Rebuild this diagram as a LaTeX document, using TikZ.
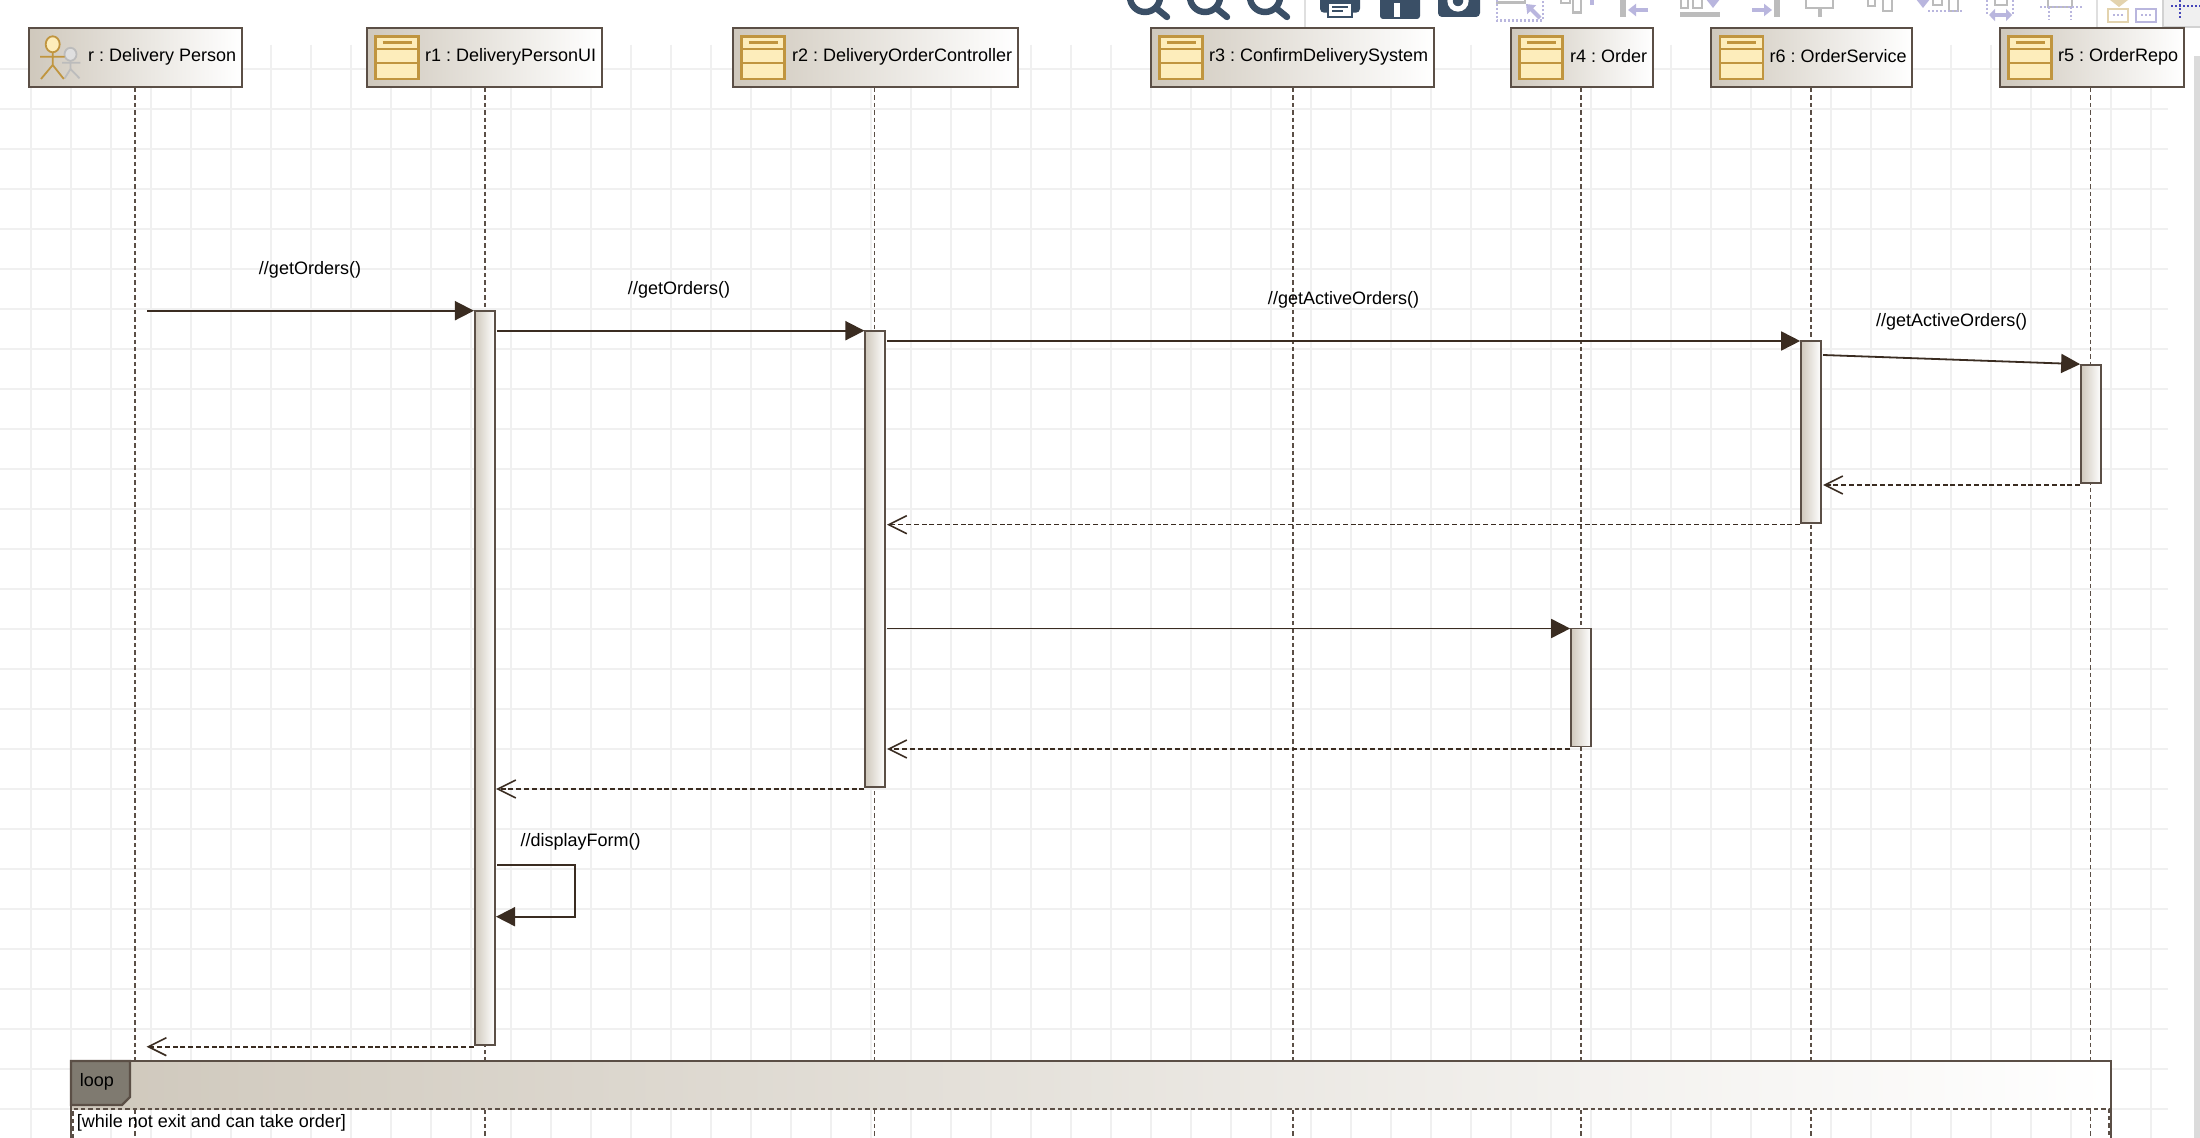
\documentclass[tikz,border=0pt]{standalone}
\usepackage{fontspec}
\setmainfont{Liberation Sans}
\usepackage{color}
\usetikzlibrary{arrows.meta}
\definecolor{edgebrown}{HTML}{5B4F46}
\definecolor{arrowbrown}{HTML}{3A2C21}
\definecolor{shadetan}{HTML}{CFC8BC}
\definecolor{tabgrey}{HTML}{7F7A70}
\definecolor{iconline}{HTML}{C0953F}
\definecolor{iconfill}{HTML}{FDEDBB}
\definecolor{gridgrey}{HTML}{F0F0F0}
\definecolor{toolblue}{HTML}{3A4F66}
\definecolor{toolgrey}{HTML}{BCBCBC}
\definecolor{toollav}{HTML}{B9B6DE}
\definecolor{tooltan}{HTML}{E3D3AE}
\tikzset{
	head/.style={rectangle, draw=edgebrown, line width=1pt, left color=shadetan, right color=white, minimum height=29.5pt},
	bar/.style={rectangle, draw=edgebrown, line width=0.85pt, left color=shadetan, right color=white, minimum width=10pt},
	gridline/.style={gridgrey, line width=0.8pt},
	lifeline/.style={edgebrown, line width=0.75pt, dash pattern=on 2.2pt off 1.5pt},
	msg/.style={arrowbrown, line width=0.9pt, -{Triangle[length=9.5pt,width=9.5pt]}},
	ret/.style={arrowbrown, line width=0.8pt, dash pattern=on 2.5pt off 1.4pt, -{Straight Barb[length=9pt,width=9pt]}},
	tool/.style={toolblue, line width=3.2pt},
	toolbox/.style={toolgrey, line width=1.3pt},
	toolarrow/.style={toollav, line width=2pt, -{Triangle[length=4pt,width=6pt]}},
	tooldots/.style={toollav, line width=1.2pt, dash pattern=on 1pt off 1pt}
}
% yellow class symbol inside a head box
\newcommand{\classicon}[1]{
	\begin{scope}[shift={(#1.west)}, iconline, line width=1.2pt]
		\draw[fill=iconfill] (10,-21.3) rectangle (53,21.3);
		\draw (10,-8.7) -- (53,-8.7);
		\draw (10,5.3) -- (53,5.3);
		\draw (17,-15.3) -- (46,-15.3);
	\end{scope}
}
\begin{document}
\frenchspacing
\begin{tikzpicture}[x=0.5pt,y=-0.5pt, every node/.style={font=\fontsize{9pt}{11pt}\selectfont, inner sep=0}]
\useasboundingbox (0,0) rectangle (2200,1138);
\clip (0,0) rectangle (2200,1138);
\fill[white] (0,0) rectangle (2200,1138);
% grid
\foreach \x in {31,71,...,2151} {
	\draw[gridline] (\x,45) -- (\x,1138);
};
\foreach \y in {69,109,...,1109} {
	\draw[gridline] (0,\y) -- (2168,\y);
};
% toolbar rests
\fill[gray!12] (2163,0) rectangle (2200,27);
\draw[gray!35, line width=0.8pt] (2163,0) -- (2163,27) -- (2200,27);
\fill[gray!28] (2194.3,56) rectangle (2200,1138);
\foreach \x in {1305,2097} {
	\draw[gray!25, line width=0.8pt] (\x,0) -- (\x,27);
};
\foreach \x in {1145,1205,1265} {
	\draw[tool] (\x,-3) circle (15);
	\draw[tool, line cap=round] (\x+11,8) -- (\x+22,17);
};
\fill[toolblue, rounded corners=2pt] (1320,-8) rectangle (1360,12.7);
\draw[toolblue, fill=white, line width=1pt] (1328,3) rectangle (1352,17);
\draw[toolblue, line width=0.8pt] (1332,7) -- (1348,7) (1332,11) -- (1343,11);
\fill[toolblue, rounded corners=1.5pt] (1380,-8) rectangle (1420,19);
\fill[white] (1394,3) rectangle (1408,17);
\fill[toolblue] (1400,3) rectangle (1408,17);
\fill[toolblue, rounded corners=2pt] (1438,-8) rectangle (1480,17);
\draw[white, line width=2.6pt] (1458,1) circle (8);
\draw[toolbox] (1497,-6) rectangle (1525,2.5);
\draw[tooldots] (1497,0) -- (1497,20.7) -- (1543,20.7) -- (1543,0);
\draw[toolarrow] (1540,18) -- (1526,4);
\draw[toolbox] (1561,-6) rectangle (1570,3);
\draw[toolbox] (1573,-6) rectangle (1581,12.7);
\fill[toollav] (1590,0) rectangle (1594,5);
\fill[toolgrey] (1620,0) rectangle (1626,17);
\draw[toolarrow] (1648,10) -- (1628,10);
\draw[toolbox] (1681,-6) rectangle (1688,8);
\draw[toolbox] (1693,-6) rectangle (1702,8);
\fill[toolgrey] (1680,12.3) rectangle (1720,17.3);
\draw[toolarrow] (1713,0) -- (1713,8);
\draw[toolarrow] (1752,10) -- (1772,10);
\fill[toolgrey] (1774,0) rectangle (1780,17);
\draw[toolbox] (1806,-6) rectangle (1833,8);
\fill[toolgrey] (1818,8) rectangle (1822,17);
\draw[toolbox] (1868,-6) rectangle (1875,6);
\draw[toolbox] (1883,-6) rectangle (1892,11);
\draw[toolarrow] (1923,0) -- (1923,8);
\draw[toolbox] (1933,-6) rectangle (1942,5);
\draw[toolbox] (1949,-6) rectangle (1958,11);
\draw[tooldots] (1928,11) -- (1962,11);
\draw[tooldots] (1987,0) -- (1987,15) (2013,0) -- (2013,15);
\draw[toolbox] (1995,-6) rectangle (2007,5);
\draw[toollav, line width=1.6pt, {Triangle[length=3pt,width=6pt]}-{Triangle[length=3pt,width=6pt]}] (1989,15) -- (2012,15);
\draw[toolbox] (2048,-6) rectangle (2072,7);
\draw[tooldots] (2040,7) -- (2082,7) (2049,7) -- (2049,20) (2071,7) -- (2071,20);
\fill[tooltan] (2110,0) -- (2128,0) -- (2119,7) -- cycle;
\draw[tooltan, line width=1pt] (2108,9) rectangle (2128,21.7);
\draw[toollav, line width=1pt] (2136,9) rectangle (2156,21.7);
\draw[tooldots] (2113,15) -- (2124,15) (2141,15) -- (2152,15);
\draw[blue!45!gray, line width=1pt, dash pattern=on 1pt off 1pt] (2171,6.5) -- (2200,6.5) (2180,0) -- (2180,20);
% head boxes
\foreach \n/\x/\l/\w/\lbl in {r/135/134.8/213/r : Delivery Person, r1/484/485/235/r1 : DeliveryPersonUI, r2/875/874.5/285/r2 : DeliveryOrderController, r3/1292/1293/283/r3 : ConfirmDeliverySystem, r4/1581.5/1581/142/r4 : Order, r6/1811.5/1811/201/r6 : OrderService, r5/2091.5/2090.5/184/r5 : OrderRepo} {
	\draw[lifeline] (\l,88) -- (\l,1138);
	\node[head, minimum width=\w*0.5pt] (\n) at (\x,58) {};
	\node[anchor=east] (\n text) at ([xshift=-3pt,yshift=0.8pt]\n.east) {\lbl};
};
\foreach \n in {r1,r2,r3,r4,r6,r5} {
	\classicon{\n}
};
% actor symbol
\begin{scope}[line width=0.9pt]
	\draw[toolgrey, fill=gray!25] (70.5,54.3) ellipse (6 and 6.5);
	\draw[toolgrey] (62,62.7) -- (80.4,62.7) (70.5,61) -- (70.5,69) -- (64.7,78.3) (70.5,69) -- (79.5,78.3);
	\draw[iconline, fill=iconfill] (52.7,44.3) ellipse (7 and 8);
	\draw[iconline] (40,56.7) -- (64.7,56.7) (52.7,52.3) -- (52.7,65) -- (41,79) (52.7,65) -- (63.8,79);
\end{scope}
% activation bars
\foreach \n/\x/\t/\b in {a1/484.8/310.7/1045, a2/875.3/331/786.7, a6/1811/340.7/522.7, a5/2091/365/483, a4/1581/628.5/746.5} {
	\node[bar, minimum height={(\b-\t)*0.5pt}] (\n) at (\x,{(\t+\b)/2}) {};
};
% free ends of the messages
\coordinate (m1) at (147,310.7);
\coordinate (m2) at (497,330.7);
\coordinate (m3) at (887,341);
\coordinate (m4) at (1823,355);
\coordinate (ret5) at (1823,485);
\coordinate (ret6) at (887,524.7);
\coordinate (m7) at (887,628.5);
\coordinate (ret4) at (887,749);
\coordinate (ret2) at (496,789);
\coordinate (self1) at (497,864.7);
\coordinate (self2) at (575,864.7);
\coordinate (self3) at (575,916.7);
\coordinate (self4) at (496,916.7);
\coordinate (ret1) at (146.6,1046.7);
\draw[msg] (m1) -- (a1.north west |- m1);
\draw[msg] (m2) -- (a2.north west |- m2);
\draw[msg] (m3) -- (a6.north west |- m3);
\draw[msg] (m4) -- (a5.north west);
\draw[ret] (a5.south west |- ret5) -- (ret5);
\draw[ret] (a6.south west |- ret6) -- (ret6);
\draw[msg] (m7) -- (a4.north west |- m7);
\draw[ret] (a4.south west |- ret4) -- (ret4);
\draw[ret] (a2.south west |- ret2) -- (ret2);
\draw[msg] (self1) -- (self2) -- (self3) -- (self4);
\draw[ret] (a1.south west |- ret1) -- (ret1);
% message texts
\node (l1) at (310,270) {//getOrders()};
\node (l2) at (679,289.6) {//getOrders()};
\node (l3) at (1343.5,299.5) {//getActiveOrders()};
\node (l4) at (1951.7,322) {//getActiveOrders()};
\node (l5) at (580.7,842) {//displayForm()};
% loop frame
\node[rectangle, left color=shadetan, right color=white, minimum width=1020pt, minimum height=24pt] (loophead) at (1091,1085) {};
\draw[edgebrown, line width=0.9pt] (71,1138) -- (71,1061) -- (2111,1061) -- (2111,1138);
\draw[edgebrown, line width=0.8pt, dash pattern=on 2.2pt off 1.5pt] (73,1138) -- (73,1109) -- (2109,1109) -- (2109,1138);
\draw[edgebrown, line width=1.1pt, fill=tabgrey] (71,1061) -- (130,1061) -- (130,1097) -- (122,1105) -- (71,1105) -- cycle;
\node (looptext) at (96.8,1081.5) {loop};
\node[anchor=west] (guard) at (76.5,1122.7) {[while not exit and can take order]};
\end{tikzpicture}
\end{document}
